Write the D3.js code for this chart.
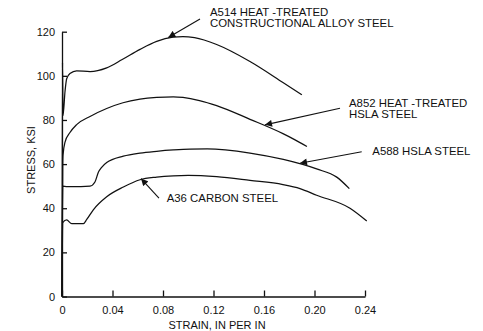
<!DOCTYPE html>
<html>
<head>
<meta charset="utf-8">
<script src="https://cdn.jsdelivr.net/npm/d3@7/dist/d3.min.js"></script>
<style>
  html, body { margin: 0; padding: 0; background: #fff; }
  svg { display: block; }
  text { font-family: "Liberation Sans", Arial, Helvetica, sans-serif; fill: #111; }
</style>
</head>
<body>
<svg id="chart" width="483" height="331"></svg>
<script>
// Engineering stress–strain curves for four structural steels
const strainTicks = [0, 0.04, 0.08, 0.12, 0.16, 0.20, 0.24];
const strainTickLabels = ["0", "0.04", "0.08", "0.12", "0.16", "0.20", "0.24"];
const stressTicks = [0, 20, 40, 60, 80, 100, 120];
const stressTickLabels = ["0", "20", "40", "60", "80", "100", "120"];

// [strain (in/in), stress (ksi)]
const a514 = [[0,0],[0.0004,106],[0.0008,82],[0.0024,93],[0.0037,98.7],[0.0063,101.1],[0.0116,102.3],
  [0.0222,101.9],[0.0354,103.6],[0.0477,107.4],[0.0618,112],[0.075,115.6],[0.0879,117.5],[0.0958,117.8],
  [0.105,117.3],[0.1225,114.2],[0.1489,106.5],[0.175,97],[0.19,91.4]];
const a852 = [[0,0],[0.0006,60],[0.0008,64],[0.0024,70],[0.0063,74.3],[0.0116,77.9],[0.0222,81.6],
  [0.0354,85.2],[0.0483,87.8],[0.0618,89.4],[0.075,90.2],[0.0882,90.5],[0.0958,90.2],[0.1089,88.8],
  [0.1225,86.5],[0.1489,80.3],[0.175,73.8],[0.1846,71],[0.194,68]];
const a588 = [[0,0],[0.0005,50],[0.004,49.8],[0.015,49.8],[0.0222,50],[0.0261,51.9],[0.0288,56.3],
  [0.0314,58.5],[0.0354,60.7],[0.0486,63.6],[0.0618,65],[0.075,65.8],[0.0882,66.4],[0.1014,66.8],
  [0.115,66.9],[0.1489,65],[0.1753,62.1],[0.2017,57.8],[0.2176,54.1],[0.2276,48.9]];
const a36 = [[0,0],[0.0006,33.5],[0.0037,34.7],[0.0077,33],[0.0169,33],[0.0196,34.9],[0.0248,39.3],
  [0.0354,45.2],[0.0486,49.6],[0.0618,52.9],[0.075,54.1],[0.0882,54.7],[0.1,54.9],[0.1225,54.3],
  [0.1489,52.6],[0.175,50.7],[0.1885,48.9],[0.2017,45.9],[0.2281,40],[0.2414,34.2]];

const seriesNames = ["A514", "A852", "A588", "A36"];
const seriesData = [a514, a852, a588, a36];

// Callouts: label lines, label anchor, leader tail, and the strain where the arrow meets its curve
const labelLines = [
  ["A514 HEAT -TREATED", "CONSTRUCTIONAL ALLOY STEEL"],
  ["A852 HEAT -TREATED", "HSLA STEEL"],
  ["A588 HSLA STEEL"],
  ["A36 CARBON STEEL"]
];
const labelAt = [[0.1172, 126.9], [0.2273, 85.7], [0.2458, 64.1], [0.0829, 43.0]];
const leaderTail = [[0.1093, 125.8], [0.2202, 85.3], [0.2374, 65.6], [0.0768, 44.6]];
const arrowStrain = [0.0842, 0.1608, 0.1885, 0.0626];

const svg = d3.select("#chart");
const x = d3.scaleLinear().domain([0, 0.24]).range([62, 365]);
const y = d3.scaleLinear().domain([0, 120]).range([296.5, 31.7]);

svg.append("defs").append("marker")
  .attr("id", "arrow")
  .attr("viewBox", "0 0 10 10")
  .attr("refX", 10).attr("refY", 5)
  .attr("markerWidth", 8).attr("markerHeight", 7)
  .attr("markerUnits", "userSpaceOnUse")
  .attr("orient", "auto")
  .append("path").attr("d", "M0,0 L10,5 L0,10 Z").attr("fill", "#111");

// Axes
const xAxis = d3.axisBottom(x).tickValues(strainTicks)
  .tickFormat((d, i) => strainTickLabels[i]).tickSize(-6).tickSizeOuter(0).tickPadding(10);
const yAxis = d3.axisLeft(y).tickValues(stressTicks)
  .tickFormat((d, i) => stressTickLabels[i]).tickSize(-5).tickSizeOuter(0).tickPadding(7);

const gx = svg.append("g").attr("transform", `translate(0,${y(0)})`).call(xAxis);
const gy = svg.append("g").attr("transform", `translate(${x(0)},0)`).call(yAxis);
[gx, gy].forEach(g => {
  g.selectAll("path, line").attr("stroke", "#111").attr("stroke-width", 1.3);
  g.selectAll("text").attr("font-size", 11).attr("font-family", "Liberation Sans, Arial, sans-serif").attr("fill", "#111");
});

svg.append("text")
  .attr("x", 217).attr("y", 329)
  .attr("text-anchor", "middle").attr("font-size", 11)
  .text("STRAIN, IN PER IN");
svg.append("text")
  .attr("transform", "translate(35,160) rotate(-90)")
  .attr("text-anchor", "middle").attr("font-size", 11)
  .text("STRESS, KSI");

// Curves
const line = d3.line().x(d => x(d[0])).y(d => y(d[1])).curve(d3.curveMonotoneX);
svg.append("g").selectAll("path")
  .data(seriesData)
  .join("path")
  .attr("d", line)
  .attr("fill", "none")
  .attr("stroke", "#111")
  .attr("stroke-width", 1.25);

// Stress on a curve at a given strain
function stressAt(data, s) {
  for (let i = 1; i < data.length; i++) {
    if (data[i][0] >= s) {
      const [x0, y0] = data[i - 1], [x1, y1] = data[i];
      return y0 + (y1 - y0) * (s - x0) / (x1 - x0);
    }
  }
  return data[data.length - 1][1];
}

// Callouts
seriesData.forEach((data, i) => {
  const tip = [arrowStrain[i], stressAt(data, arrowStrain[i])];
  svg.append("line")
    .attr("x1", x(leaderTail[i][0])).attr("y1", y(leaderTail[i][1]))
    .attr("x2", x(tip[0])).attr("y2", y(tip[1]) - 1)
    .attr("stroke", "#111").attr("stroke-width", 1.1)
    .attr("marker-end", "url(#arrow)");
  const t = svg.append("text")
    .attr("x", x(labelAt[i][0])).attr("y", y(labelAt[i][1]))
    .attr("font-size", 11.4);
  labelLines[i].forEach((s, k) => {
    t.append("tspan").attr("x", x(labelAt[i][0])).attr("dy", k === 0 ? 0 : 11).text(s);
  });
});
</script>
</body>
</html>
